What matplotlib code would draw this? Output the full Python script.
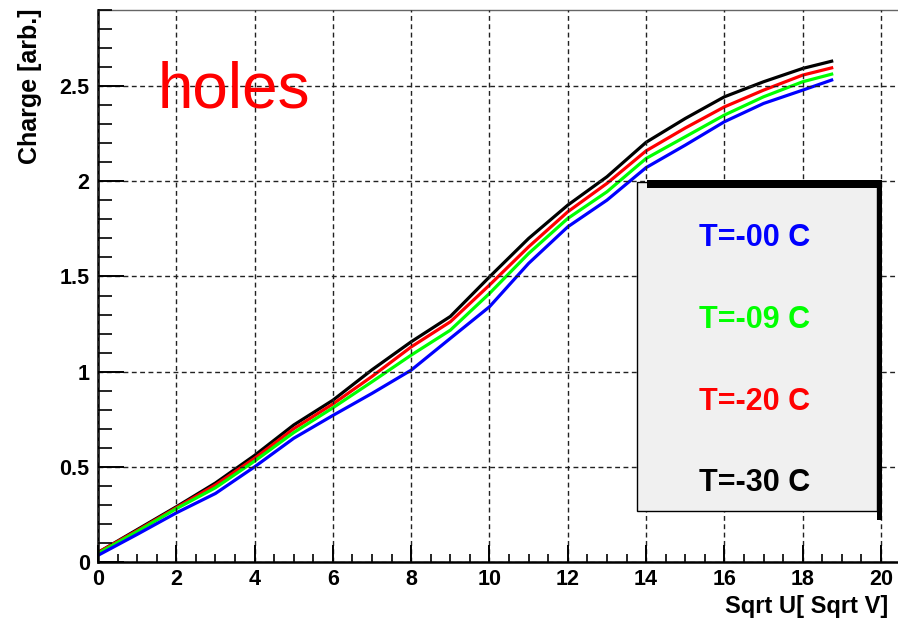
import numpy as np
import matplotlib
matplotlib.use("Agg")
from matplotlib import pyplot as plt
from matplotlib.patches import Rectangle
from matplotlib.ticker import MultipleLocator, FuncFormatter

# sqrt of bias voltage [sqrt V]
sqrt_u = [0, 1, 2, 3, 4, 5, 6, 7, 8, 9, 10, 11, 12, 13, 14, 15, 16, 17, 18, 18.74]

# collected charge for each temperature
q_m00 = [0.035, 0.145, 0.258, 0.36, 0.50, 0.65, 0.77, 0.886, 1.008, 1.175, 1.341,
         1.569, 1.761, 1.901, 2.072, 2.19, 2.313, 2.409, 2.479, 2.532]
q_m09 = [0.045, 0.16, 0.28, 0.39, 0.53, 0.68, 0.81, 0.947, 1.087, 1.218, 1.411,
         1.621, 1.805, 1.945, 2.12, 2.234, 2.348, 2.444, 2.523, 2.563]
q_m20 = [0.05, 0.165, 0.285, 0.405, 0.545, 0.70, 0.83, 0.975, 1.13, 1.262, 1.455,
         1.656, 1.84, 1.989, 2.16, 2.28, 2.391, 2.479, 2.558, 2.596]
q_m30 = [0.05, 0.17, 0.29, 0.415, 0.56, 0.72, 0.85, 1.01, 1.157, 1.29, 1.498,
         1.70, 1.875, 2.024, 2.205, 2.33, 2.444, 2.523, 2.593, 2.631]

labels = ["T=-00 C", "T=-09 C", "T=-20 C", "T=-30 C"]
colors = ["#0000ff", "#00ff00", "#ff0000", "#000000"]

plt.rcParams['font.family'] = ['Liberation Sans', 'DejaVu Sans']
plt.rcParams['font.weight'] = 'bold'

W, H = 898, 620
fig = plt.figure(figsize=(W / 100, H / 100), dpi=100)
fig.patch.set_facecolor("white")

def fx(px):
    return px / W

def fy(py):
    return 1 - py / H

ax = fig.add_axes([fx(98), fy(562), 20.5 * 39.15 / W, 552 / H])
ax.set_xlim(0, 20.5)
ax.set_ylim(0, 2.9)

# black first so the warmer curves sit on top
series = [q_m30, q_m20, q_m09, q_m00]
cols = [colors[3], colors[2], colors[1], colors[0]]
for q, c in zip(series, cols):
    ax.plot(sqrt_u, q, color=c, lw=2.3, solid_joinstyle='miter')

ax.xaxis.set_major_locator(MultipleLocator(2))
ax.xaxis.set_minor_locator(MultipleLocator(0.5))
ax.yaxis.set_major_locator(MultipleLocator(0.5))
ax.yaxis.set_minor_locator(MultipleLocator(0.1))
ax.yaxis.set_major_formatter(FuncFormatter(lambda v, p: "%g" % v))
ax.xaxis.set_major_formatter(FuncFormatter(lambda v, p: "%g" % v))

ax.tick_params(axis='x', which='major', direction='in', length=12, width=1.4,
               labelsize=15.5, pad=5, top=False)
ax.tick_params(axis='x', which='minor', direction='in', length=6, width=1.2, top=False)
ax.tick_params(axis='y', which='major', direction='in', length=19, width=1.4,
               labelsize=15.5, pad=6, right=False)
ax.tick_params(axis='y', which='minor', direction='in', length=10, width=1.2, right=False)

ax.grid(True, which='major', color='#222222', lw=1.0, linestyle=(0, (3.5, 2.5)))
ax.set_axisbelow(False)

for s in ['left', 'bottom']:
    ax.spines[s].set_linewidth(1.8)
ax.spines['top'].set_color('#666666')
ax.spines['top'].set_linewidth(1.0)
ax.spines['right'].set_visible(False)

# axis titles, ROOT style: right-aligned at the ends of the axes
fig.text(fx(888), fy(607), "Sqrt U[ Sqrt V]", ha='right', va='center', fontsize=17)
fig.text(fx(30), fy(8), "Charge [arb.]", ha='center', va='top', rotation=90, fontsize=18)

fig.text(fx(158), fy(108), "holes", color='#ff0000', fontsize=46, fontweight='normal',
         ha='left', va='baseline')

# legend box with shadow bars
box = Rectangle((fx(637), fy(511)), fx(877) - fx(637), fy(182) - fy(511),
                transform=fig.transFigure, facecolor='#f0f0f0', edgecolor='black',
                lw=1.0, zorder=5)
fig.add_artist(box)
top_bar = Rectangle((fx(647), fy(188)), fx(877) - fx(647), fy(180) - fy(188),
                    transform=fig.transFigure, facecolor='black', edgecolor='none', zorder=6)
right_bar = Rectangle((fx(877), fy(520)), fx(882) - fx(877), fy(180) - fy(520),
                      transform=fig.transFigure, facecolor='black', edgecolor='none', zorder=6)
fig.add_artist(top_bar)
fig.add_artist(right_bar)

for lab, c, py in zip(labels, colors, [238, 320, 402, 483]):
    fig.text(fx(755), fy(py), lab, color=c, fontsize=22, ha='center', va='center', zorder=7)

fig.savefig("out.png", dpi=100)
